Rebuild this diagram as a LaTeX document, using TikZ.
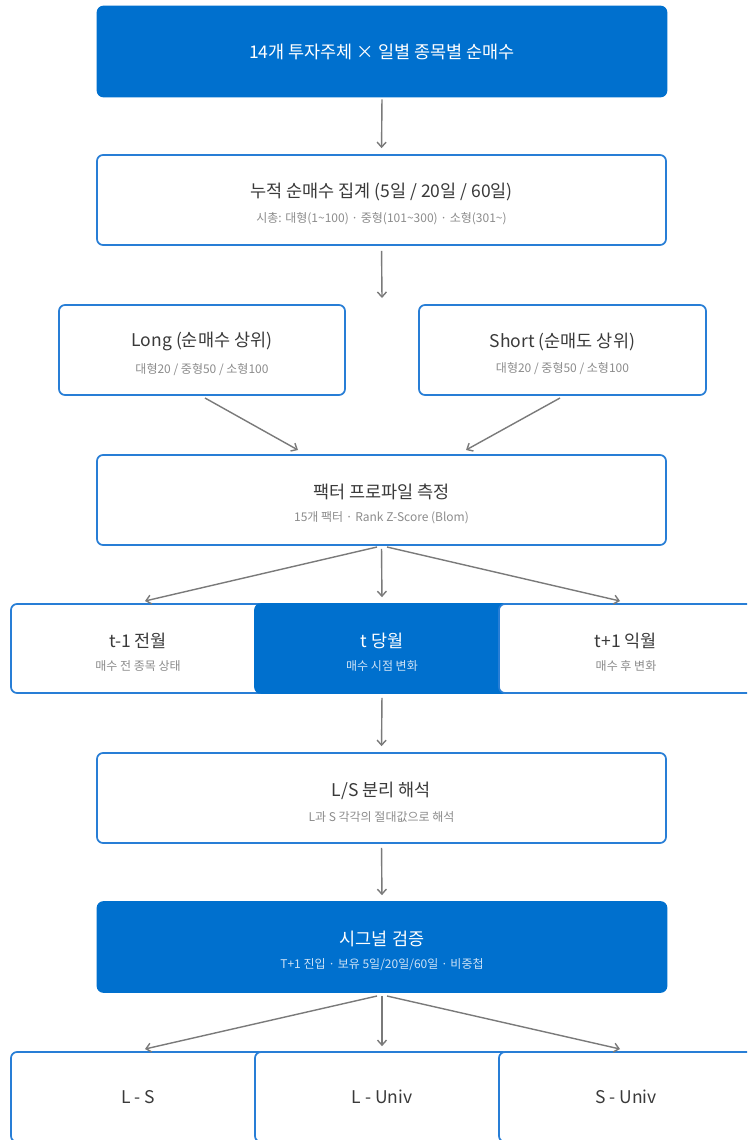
\documentclass[tikz,border=0pt]{standalone}
\usepackage{fontspec}
\setmainfont{Noto Sans CJK KR}
\usetikzlibrary{arrows.meta}
\definecolor{bfill}{RGB}{0,112,206}
\definecolor{bline}{RGB}{40,126,214}
\definecolor{ttxt}{RGB}{58,58,58}
\definecolor{stxt}{RGB}{140,140,140}
\definecolor{wsub}{RGB}{205,226,246}
\definecolor{arr}{RGB}{122,122,122}
\tikzset{
  box/.style={draw=bline, line width=1.7pt, fill=white, rounded corners=6pt, minimum width=569pt, minimum height=90pt, inner sep=0pt, align=center, text=ttxt},
  bluebox/.style={box, fill=bfill, draw=bfill, text=white},
  halfbox/.style={box, minimum width=286pt},
  cellbox/.style={box, minimum width=254pt, minimum height=89pt},
  bluecell/.style={cellbox, fill=bfill, draw=bfill, text=white},
  conn/.style={draw=arr, line width=1.4pt, -{Straight Barb[length=5pt,width=9pt,line width=1.4pt]}},
}
\newcommand{\ttl}[1]{{\fontsize{17.5}{20}\selectfont #1}}
\newcommand{\ttlx}[1]{{\fontsize{17.5}{20}\selectfont\rule{0pt}{22pt}#1}}
\newcommand{\subt}[1]{{\fontsize{12}{14}\selectfont\color{stxt} #1}}
\newcommand{\wsubt}[1]{{\fontsize{12}{14}\selectfont\color{wsub} #1}}
\begin{document}
\begin{tikzpicture}[x=1pt,y=-1pt]
\useasboundingbox (0,0) rectangle (747,1140);
\clip (0,0) rectangle (747,1140);
\fill[white] (0,0) rectangle (747,1140);

\node[bluebox] (src) at (382,51.5) {\ttl{14개 투자주체 × 일별 종목별 순매수}};
\node[box] (agg) at (381.5,200) {\ttlx{누적 순매수 집계 (5일 / 20일 / 60일)}\\[11pt]\subt{시총: 대형(1\textasciitilde100) · 중형(101\textasciitilde300) · 소형(301\textasciitilde)}};
\node[halfbox] (long) at (202,350) {\ttlx{Long (순매수 상위)}\\[11pt]\subt{대형20 / 중형50 / 소형100}};
\node[halfbox, minimum width=287pt] (short) at (562.5,350) {\ttlx{Short (순매도 상위)}\\[11pt]\subt{대형20 / 중형50 / 소형100}};
\node[box] (factor) at (381.5,500) {\ttlx{팩터 프로파일 측정}\\[11pt]\subt{15개 팩터 · Rank Z-Score (Blom)}};

\node[cellbox] (tprev) at (138,648.5) {\ttlx{t-1 전월}\\[11pt]\subt{매수 전 종목 상태}};
\node[bluecell] (tcur) at (382,648.5) {\ttlx{t 당월}\\[11pt]\wsubt{매수 시점 변화}};
\node[cellbox] (tnext) at (626,648.5) {\ttlx{t+1 익월}\\[11pt]\subt{매수 후 변화}};

\node[box] (ls) at (381.5,798) {\ttlx{L/S 분리 해석}\\[11pt]\subt{L과 S 각각의 절대값으로 해석}};
\node[bluebox] (sig) at (382,947) {\ttlx{시그널 검증}\\[11pt]\wsubt{T+1 진입 · 보유 5일/20일/60일 · 비중첩}};

\node[cellbox, minimum height=90pt] (lms) at (138,1097) {\ttl{L - S}};
\node[cellbox, minimum height=90pt] (lmu) at (382,1097) {\ttl{L - Univ}};
\node[cellbox, minimum height=90pt] (smu) at (626,1097) {\ttl{S - Univ}};

% connector end points
\coordinate (split) at (382,298);
\coordinate (lgS) at (205,398);
\coordinate (shS) at (560,398);
\coordinate (fL) at (298,450);
\coordinate (fR) at (466,450);
\coordinate (fo1) at (377,547);
\coordinate (fo2) at (387,547);
\coordinate (tpIn) at (145,601);
\coordinate (tnIn) at (620,601);
\coordinate (so1) at (377,996);
\coordinate (so2) at (387,996);
\coordinate (lmsIn) at (145,1049);
\coordinate (smuIn) at (620,1049);

\draw[conn, shorten <=2pt, shorten >=6pt] (src.south) -- (agg.north);
\draw[conn, shorten <=5pt] (agg.south) -- (split);
\draw[conn] (lgS) -- (fL);
\draw[conn] (shS) -- (fR);
\draw[conn, shorten <=3pt, shorten >=6pt] (factor.south) -- (tcur.north);
\draw[conn] (fo1) -- (tpIn);
\draw[conn] (fo2) -- (tnIn);
\draw[conn, shorten <=4pt, shorten >=6pt] (tcur.south) -- (ls.north);
\draw[conn, shorten <=4pt, shorten >=6pt] (ls.south) -- (sig.north);
\draw[conn, shorten <=3pt, shorten >=5pt] (sig.south) -- (lmu.north);
\draw[conn] (so1) -- (lmsIn);
\draw[conn] (so2) -- (smuIn);
\end{tikzpicture}
\end{document}
